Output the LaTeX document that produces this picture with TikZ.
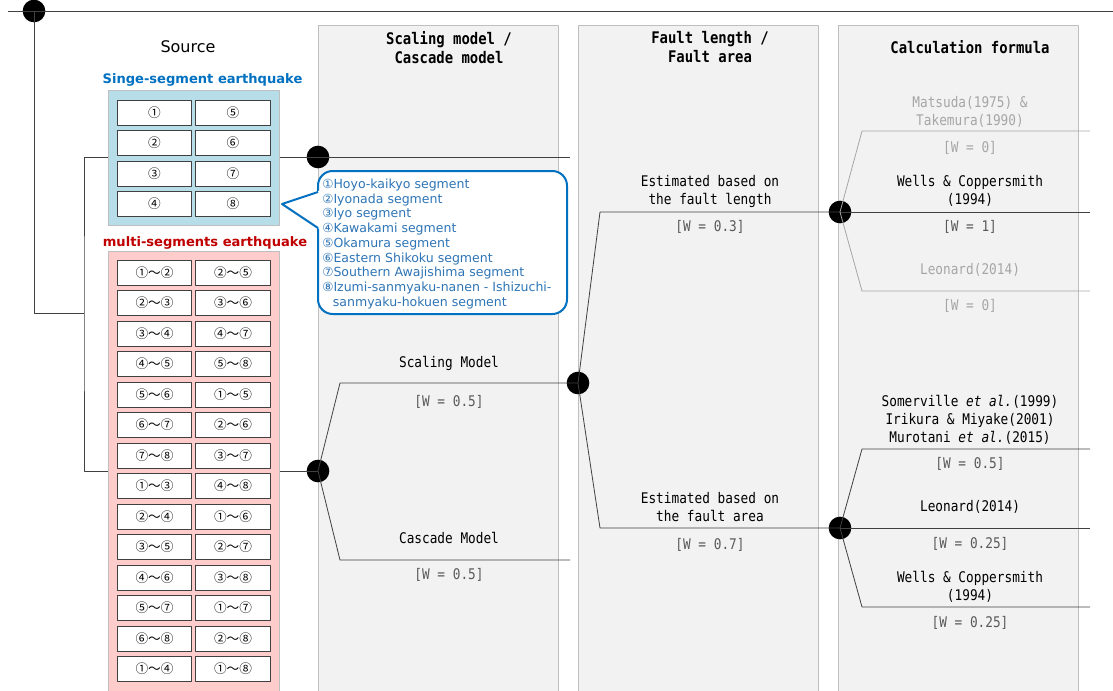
\documentclass[tikz,border=0pt]{standalone}
\usepackage{fontspec}
\setmainfont{DejaVu Sans}
\newfontfamily\cjkfont{Noto Sans CJK JP}
\newfontfamily\gothic[FakeStretch=0.87]{DejaVu Sans Mono}
\usetikzlibrary{positioning}

\definecolor{panelfill}{HTML}{F2F2F2}
\definecolor{panelline}{HTML}{BFBFBF}
\definecolor{treeline}{HTML}{404040}
\definecolor{fadeline}{HTML}{A6A6A6}
\definecolor{ssblue}{HTML}{0070C0}
\definecolor{msred}{HTML}{C00000}
\definecolor{ssfill}{HTML}{B7DEE8}
\definecolor{msfill}{HTML}{FFCCCC}
\definecolor{notetext}{HTML}{2E75B6}
\definecolor{wtext}{HTML}{595959}
\definecolor{fadetext}{HTML}{A6A6A6}

\tikzset{
  dot/.style={circle,fill=black,inner sep=0,minimum size=17pt},
  branch/.style={draw=treeline,line width=0.6pt},
  faded/.style={draw=fadeline,line width=0.6pt},
  panel/.style={fill=panelfill,draw=panelline,line width=0.6pt},
  segbox/.style={draw=treeline,fill=white,line width=0.6pt,minimum width=56pt,
    minimum height=18.75pt,inner sep=0,font=\cjkfont\fontsize{9.5}{11}\selectfont},
  optlbl/.style={font=\gothic\fontsize{11}{13.5}\selectfont,align=center},
  wlbl/.style={font=\gothic\fontsize{11}{13.5}\selectfont,text=wtext},
  headlbl/.style={font=\gothic\bfseries\fontsize{12}{14.25}\selectfont,align=center},
}

\begin{document}
\begin{tikzpicture}[x=0.75pt,y=-0.75pt,line join=round]
\useasboundingbox (0,0) rectangle (1113,690);

% columns
\path[panel] (318,25) rectangle (558,700);
\path[panel] (578,25) rectangle (818,700);
\path[panel] (838,25) rectangle (1078,700);
\node[headlbl] (head-a) at (449,47.5) {Scaling model /\\Cascade model};
\node[headlbl] (head-b) at (710,47.5) {Fault length /\\Fault area};
\node[headlbl] (head-c) at (970,47) {Calculation formula};

% tree points
\node[dot] (src) at (34,11) {};
\node[dot] (ss) at (318,157) {};
\node[dot] (ms) at (318,471) {};
\node[dot] (scal) at (578,383) {};
\node[dot] (flen) at (840,212) {};
\node[dot] (farea) at (840,528) {};
\coordinate (top-start) at (8,11);
\coordinate (top-end) at (1113,11);
\coordinate (split) at (84,313);
\coordinate (ss-end) at (570,157);
\coordinate (scal-bend) at (340,383);
\coordinate (casc-bend) at (340,560);
\coordinate (casc-end) at (570,560);
\coordinate (flen-bend) at (600,212);
\coordinate (farea-bend) at (600,528);

% connectors
\draw[branch] (top-start) -- (top-end);
\draw[branch] (src.center) |- (split);
\draw[branch] (ss.center) -| (split) |- (ms.center);
\draw[branch] (ss.center) -- (ss-end);
\draw[branch] (scal.center) -- (scal-bend) -- (ms.center) -- (casc-bend) -- (casc-end);
\draw[branch] (flen.center) -- (flen-bend) -- (scal.center) -- (farea-bend) -- (farea.center);
\draw[faded] (flen.center) -- ++(22,-81) -- ++(228,0) coordinate (matsuda-end);
\draw[branch] (flen.center) -- ++(250,0) coordinate (wells-end);
\draw[faded] (flen.center) -- ++(22,79) -- ++(228,0) coordinate (leonard-end);
\draw[branch] (farea.center) -- ++(22,-79) -- ++(228,0) coordinate (somer-end);
\draw[branch] (farea.center) -- ++(250,0) coordinate (leonard2-end);
\draw[branch] (farea.center) -- ++(22,79) -- ++(228,0) coordinate (wells2-end);

% source
\node[font=\fontsize{12}{14}\selectfont] (src-lbl) at (188,47) {Source};
\node[font=\bfseries\fontsize{9.8}{12}\selectfont,text=ssblue] (ss-lbl) at (202.5,80) {Singe-segment earthquake};
\node[font=\bfseries\fontsize{9.8}{12}\selectfont,text=msred] (ms-lbl) at (205,243) {multi-segments earthquake};
\path[fill=ssfill,draw=panelline,line width=0.6pt] (108,90) rectangle (279,225);
\path[fill=msfill,draw=panelline,line width=0.6pt] (108,251) rectangle (279,700);
\foreach \a/\b [count=\i] in {①/⑤,②/⑥,③/⑦,④/⑧}
  \path (154.5,82+30.5*\i) node[segbox] (one-\i) {\a}
        (233,82+30.5*\i) node[segbox] (two-\i) {\b};
\foreach \a/\b [count=\i] in {①～②/②～⑤,②～③/③～⑥,③～④/④～⑦,④～⑤/⑤～⑧,
    ⑤～⑥/①～⑤,⑥～⑦/②～⑥,⑦～⑧/③～⑦,①～③/④～⑧,②～④/①～⑥,③～⑤/②～⑦,
    ④～⑥/③～⑧,⑤～⑦/①～⑦,⑥～⑧/②～⑧,①～④/①～⑧}
  \path (154.5,242+30.5*\i) node[segbox] (mone-\i) {\a}
        (233,242+30.5*\i) node[segbox] (mtwo-\i) {\b};

% note
\draw[ssblue,line width=1.5pt,fill=white,rounded corners=11pt] (318,171) rectangle (567,314);
\fill[white] (321,190) -- (282,204) -- (321,230) -- cycle;
\draw[ssblue,line width=1.5pt] (318,192) -- (282,204) -- (318,228);
\node[anchor=north west,inner sep=0,align=left,text=notetext,
  font=\fontsize{9.4}{11.06}\selectfont] (legend) at (322,178.5)
  {①Hoyo-kaikyo segment\\②Iyonada segment\\③Iyo segment\\④Kawakami segment\\
   ⑤Okamura segment\\⑥Eastern Shikoku segment\\⑦Southern Awajishima segment\\
   ⑧Izumi-sanmyaku-nanen - Ishizuchi-\\\hspace*{8pt}sanmyaku-hokuen segment};

% labels
\node[optlbl] (lbl-scal) at (449,363) {Scaling Model};
\node[wlbl] (w-scal) at (449,402) {[W = 0.5]};
\node[optlbl] (lbl-casc) at (449,538) {Cascade Model};
\node[wlbl] (w-casc) at (449,575) {[W = 0.5]};
\node[optlbl] (lbl-flen) at (710,191) {Estimated based on\\the fault length};
\node[wlbl] (w-flen) at (710,227) {[W = 0.3]};
\node[optlbl] (lbl-farea) at (710,507.5) {Estimated based on\\the fault area};
\node[wlbl] (w-farea) at (710,545) {[W = 0.7]};
\node[optlbl,text=fadetext] (lbl-matsuda) at (970,112) {Matsuda(1975) \&\\Takemura(1990)};
\node[wlbl,text=fadetext] (w-matsuda) at (970,148) {[W = 0]};
\node[optlbl] (lbl-wells) at (970,191) {Wells \& Coppersmith\\(1994)};
\node[wlbl] (w-wells) at (970,227) {[W = 1]};
\node[optlbl,text=fadetext] (lbl-leonard) at (970,270) {Leonard(2014)};
\node[wlbl,text=fadetext] (w-leonard) at (970,306) {[W = 0]};
\node[optlbl] (lbl-somer) at (970,419.5) {Somerville \textit{et al.}(1999)\\Irikura \& Miyake(2001)\\Murotani \textit{et al.}(2015)};
\node[wlbl] (w-somer) at (970,464) {[W = 0.5]};
\node[optlbl] (lbl-leonard2) at (970,507) {Leonard(2014)};
\node[wlbl] (w-leonard2) at (970,544) {[W = 0.25]};
\node[optlbl] (lbl-wells2) at (970,587) {Wells \& Coppersmith\\(1994)};
\node[wlbl] (w-wells2) at (970,623) {[W = 0.25]};
\end{tikzpicture}
\end{document}
